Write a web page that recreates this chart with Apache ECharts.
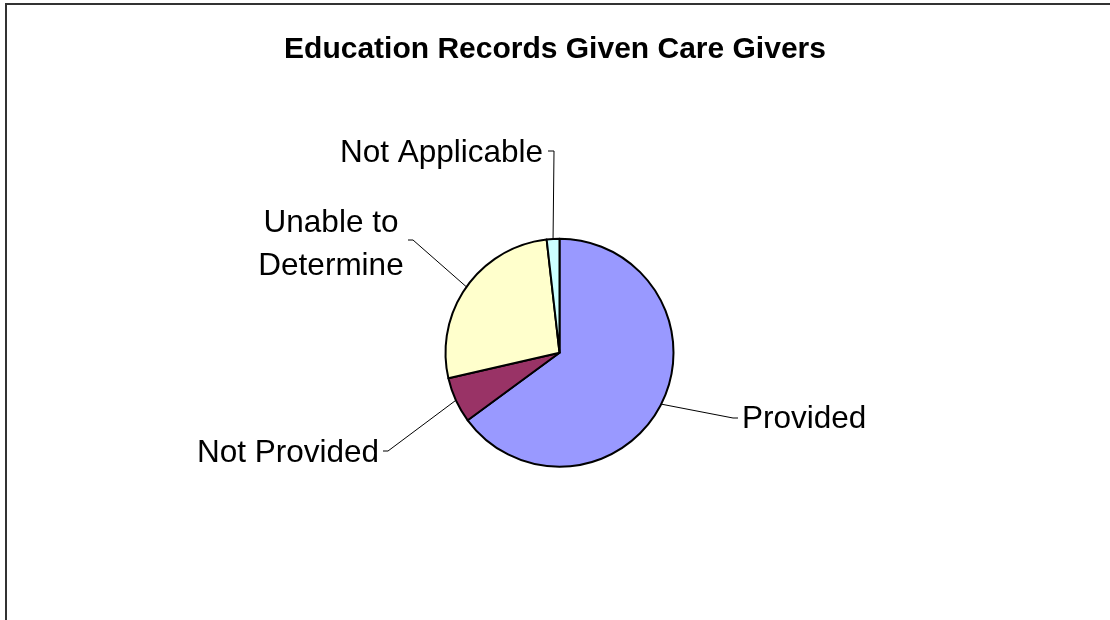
<!DOCTYPE html>
<html>
<head>
<meta charset="utf-8">
<script src="https://cdn.jsdelivr.net/npm/echarts@6/dist/echarts.min.js"></script>
<style>
  html, body { margin: 0; padding: 0; background: #fff; }
  #chart { width: 1110px; height: 620px; }
</style>
</head>
<body>
<div id="chart"></div>
<script>
// categories and shares (percent of records)
const categories = ['Provided', 'Not Provided', 'Unable to\nDetermine', 'Not Applicable'];
const shares = [64.9, 6.5, 26.8, 1.8];
const sliceColors = ['#9999FF', '#993366', '#FFFFCC', '#CCFFFF'];

// where each label's leader line bends and ends (elbow, end), plus the text anchor
const labelSpots = [
  { elbow: [733, 418], end: [738, 418], text: [742, 419], align: 'left' },
  { elbow: [388, 451], end: [383, 451], text: [379, 453], align: 'right' },
  { elbow: [413, 240], end: [408, 240], text: [331, 245], align: 'center' },
  { elbow: [554, 151], end: [548, 151], text: [543, 153], align: 'right' }
];

const myChart = echarts.init(document.getElementById('chart'));

myChart.setOption({
  animation: false,
  backgroundColor: '#fff',
  title: {
    text: 'Education Records Given Care Givers',
    left: 'center',
    top: 30,
    textStyle: {
      fontFamily: 'Liberation Sans, Arial, sans-serif',
      fontWeight: 'bold',
      fontSize: 30,
      color: '#000'
    }
  },
  // chart frame
  graphic: [{
    type: 'polyline',
    shape: { points: [[6, 640], [6, 4], [1130, 4]] },
    style: { stroke: '#333', lineWidth: 2, fill: null }
  }],
  series: [{
    type: 'pie',
    center: [559.5, 352.7],
    radius: 114,
    startAngle: 90,
    clockwise: true,
    avoidLabelOverlap: false,
    itemStyle: { borderColor: '#000', borderWidth: 2 },
    label: {
      show: true,
      position: 'outside',
      fontFamily: 'Liberation Sans, Arial, sans-serif',
      fontSize: 31.5,
      lineHeight: 43,
      color: '#000'
    },
    labelLine: {
      show: true,
      length: 30,
      length2: 10,
      lineStyle: { color: '#000', width: 1 }
    },
    labelLayout: function (p) {
      const s = labelSpots[p.dataIndex];
      const pts = p.labelLinePoints;
      return {
        x: s.text[0],
        y: s.text[1],
        align: s.align,
        verticalAlign: 'middle',
        labelLinePoints: [pts[0], s.elbow, s.end]
      };
    },
    emphasis: { disabled: true },
    data: categories.map((name, i) => ({
      name: name,
      value: shares[i],
      itemStyle: { color: sliceColors[i] }
    }))
  }]
});
</script>
</body>
</html>
